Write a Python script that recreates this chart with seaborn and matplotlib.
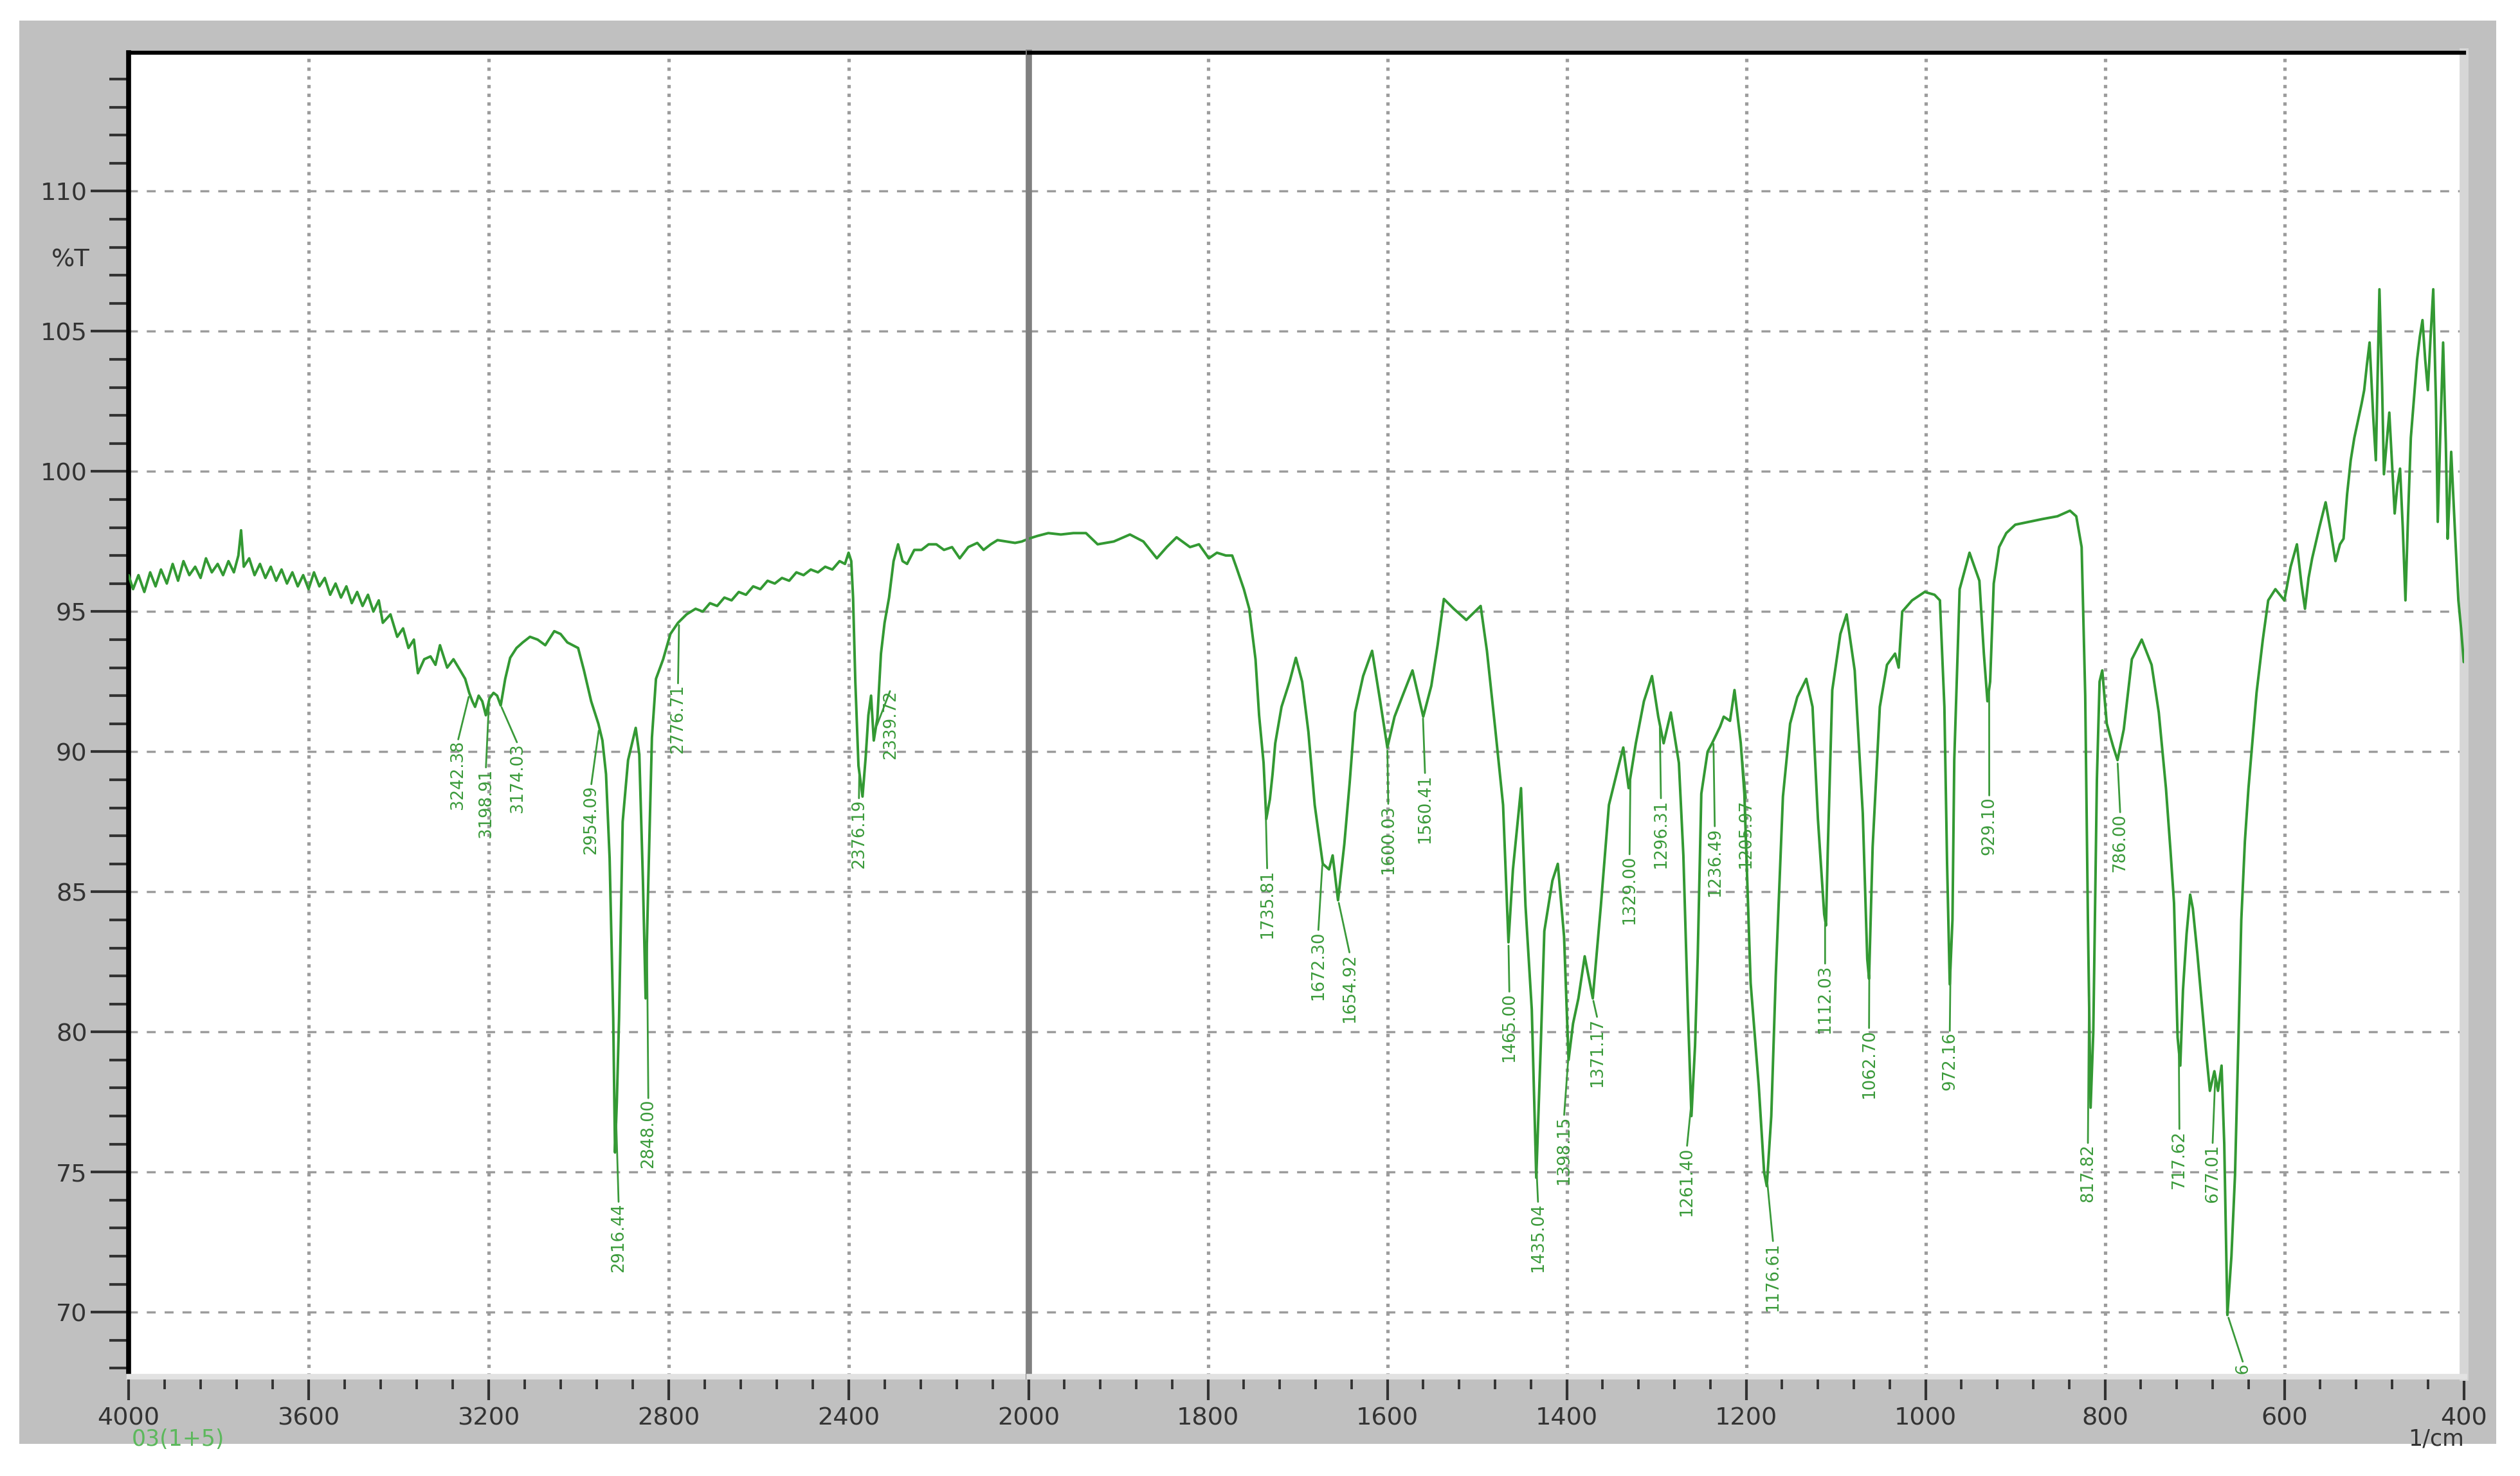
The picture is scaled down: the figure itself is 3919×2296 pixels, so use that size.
import numpy as np
import pandas as pd
import matplotlib
matplotlib.use("Agg")
import matplotlib.pyplot as plt
from matplotlib.patches import Rectangle
from matplotlib.ticker import FixedLocator, MultipleLocator, FormatStrFormatter
import seaborn as sns

# ---------------- data ----------------
wavenumber = [
    4000, 3990, 3978, 3965, 3952, 3940, 3928, 3915, 3902, 3890, 3878, 3865, 3852, 3840,
    3828, 3815, 3802, 3790, 3778, 3766, 3756, 3750, 3744, 3732, 3720, 3708, 3696, 3684,
    3672, 3660, 3648, 3636, 3624, 3612, 3600, 3588, 3576, 3564, 3552, 3540, 3528, 3516,
    3504, 3492, 3480, 3468, 3456, 3444, 3435, 3418, 3403, 3390, 3378, 3366, 3357, 3343,
    3329, 3318, 3308, 3292, 3278, 3263, 3252, 3243, 3236, 3230, 3222, 3214, 3206, 3198,
    3189, 3181, 3173, 3163, 3152, 3138, 3124, 3108, 3091, 3074, 3054, 3040, 3025, 3001,
    2988, 2972, 2956, 2947, 2939, 2931, 2923, 2919, 2915, 2910, 2902, 2890, 2873, 2865,
    2857, 2851, 2845, 2837, 2828, 2812, 2796, 2779, 2760, 2740, 2724, 2708, 2692, 2676,
    2660, 2644, 2628, 2612, 2596, 2580, 2564, 2548, 2532, 2516, 2500, 2484, 2468, 2452,
    2436, 2420, 2408, 2400, 2394, 2390, 2385, 2378, 2369, 2362, 2356, 2350, 2344, 2336,
    2328, 2320, 2310, 2300, 2290, 2280, 2270, 2254, 2238, 2222, 2205, 2188, 2170, 2153,
    2134, 2114, 2100, 2084, 2069, 2050, 2030, 2015, 2000,
    1990, 1978, 1964, 1950, 1936, 1923, 1905, 1887, 1872, 1857, 1846, 1835, 1820, 1810,
    1799, 1790, 1780, 1773, 1768, 1760, 1754, 1747, 1743, 1738, 1735, 1731, 1728, 1725,
    1718, 1709, 1702, 1695, 1688, 1681, 1672, 1665, 1661, 1655, 1648, 1642, 1636, 1627,
    1617, 1608, 1600, 1592, 1583, 1572, 1560, 1551, 1544, 1537, 1526, 1512, 1496, 1489,
    1480, 1471, 1465, 1460, 1451, 1446, 1439, 1434, 1429, 1425, 1416, 1410, 1403, 1398,
    1393, 1387, 1380, 1371, 1362, 1353, 1343, 1337, 1331, 1323, 1314, 1305, 1298, 1292,
    1284, 1275, 1270, 1265, 1261, 1257, 1254, 1250, 1243, 1238, 1229, 1225, 1218, 1213,
    1206, 1202, 1195, 1186, 1180, 1177, 1172, 1167, 1159, 1151, 1143, 1133, 1126, 1120,
    1113, 1111, 1109, 1104, 1095, 1088, 1079, 1070, 1065, 1063, 1059, 1051, 1043, 1034,
    1030, 1026, 1015, 1001, 990, 984, 979, 976, 973, 970, 968, 962, 951, 940, 935, 931,
    928, 924, 918, 910, 900, 885, 870, 853, 839, 832, 826, 822, 819, 816, 813, 809, 806,
    803, 798, 791, 786, 779, 770, 759, 748, 740, 732, 727, 723, 719, 716, 713, 709, 705,
    702, 697, 692, 687, 683, 678, 674, 670, 667, 663.5, 659, 655, 651, 648, 644, 640, 631,
    624, 618, 610, 600, 593, 586, 581, 577, 573, 569, 561, 554, 548, 543, 538, 534, 530,
    526, 522, 518, 514, 511, 508, 505, 501, 498, 496, 494, 491, 489, 486, 483, 480, 477,
    474, 471, 468, 465, 462, 459, 455, 452, 449, 446, 443, 440, 437, 434, 431, 429, 426,
    423, 420, 418, 416, 414, 410, 406, 403, 400,
]
transmittance = [
    96.3, 95.8, 96.3, 95.7, 96.4, 95.9, 96.5, 96.0, 96.7, 96.1, 96.8, 96.3, 96.6, 96.2,
    96.9, 96.4, 96.7, 96.3, 96.8, 96.4, 97.0, 97.9, 96.6, 96.9, 96.3, 96.7, 96.2, 96.6,
    96.1, 96.5, 96.0, 96.4, 95.9, 96.3, 95.8, 96.4, 95.9, 96.2, 95.6, 96.0, 95.5, 95.9,
    95.3, 95.7, 95.2, 95.6, 95.0, 95.4, 94.6, 94.9, 94.1, 94.4, 93.7, 94.0, 92.8, 93.3,
    93.4, 93.1, 93.8, 93.0, 93.3, 92.9, 92.6, 92.1, 91.8, 91.6, 92.0, 91.8, 91.3, 91.9,
    92.1, 92.0, 91.65, 92.6, 93.35, 93.7, 93.9, 94.1, 94.0, 93.8, 94.3, 94.2, 93.9, 93.7,
    92.9, 91.8, 91.0, 90.4, 89.2, 86.2, 80.5, 75.7, 77.5, 80.5, 87.5, 89.7, 90.85, 89.9,
    85.4, 81.2, 85.4, 90.5, 92.6, 93.3, 94.2, 94.6, 94.9, 95.1, 95.0, 95.3, 95.2, 95.5,
    95.4, 95.7, 95.6, 95.9, 95.8, 96.1, 96.0, 96.2, 96.1, 96.4, 96.3, 96.5, 96.4, 96.6,
    96.5, 96.8, 96.7, 97.1, 96.8, 95.5, 92.5, 89.5, 88.4, 89.8, 91.3, 92.0, 90.4, 91.2,
    93.5, 94.6, 95.5, 96.8, 97.4, 96.8, 96.7, 97.2, 97.2, 97.4, 97.4, 97.2, 97.3, 96.9,
    97.3, 97.45, 97.2, 97.4, 97.55, 97.5, 97.45, 97.5, 97.6,
    97.7, 97.8, 97.75, 97.8, 97.8, 97.4, 97.5, 97.75, 97.5, 96.9, 97.3, 97.65, 97.3, 97.4,
    96.9, 97.1, 97.0, 97.0, 96.55, 95.8, 95.1, 93.3, 91.3, 89.6, 87.6, 88.3, 89.2, 90.3,
    91.6, 92.5, 93.35, 92.5, 90.7, 88.1, 86.0, 85.8, 86.3, 84.7, 86.7, 88.9, 91.4, 92.7,
    93.6, 91.8, 90.15, 91.25, 92.0, 92.9, 91.25, 92.35, 93.8, 95.45, 95.1, 94.7, 95.2, 93.6,
    90.9, 88.1, 83.2, 85.8, 88.7, 84.5, 80.8, 74.8, 79.5, 83.6, 85.4, 86.0, 83.4, 79.0,
    80.3, 81.2, 82.7, 81.2, 84.5, 88.1, 89.4, 90.15, 88.7, 90.3, 91.8, 92.7, 91.25, 90.3,
    91.4, 89.6, 86.3, 80.8, 77.0, 79.5, 82.7, 88.5, 90.0, 90.3, 90.9, 91.25, 91.1, 92.2,
    90.3, 88.5, 81.75, 78.1, 75.0, 74.5, 77.0, 82.0, 88.4, 91.0, 91.95, 92.6, 91.6, 87.6,
    84.2, 83.8, 86.5, 92.2, 94.2, 94.9, 92.9, 87.8, 82.6, 81.9, 86.6, 91.6, 93.1, 93.5,
    93.0, 95.0, 95.4, 95.7, 95.6, 95.4, 91.6, 86.0, 81.7, 84.0, 89.7, 95.8, 97.1, 96.1, 93.5, 91.8,
    92.5, 96.0, 97.3, 97.8, 98.1, 98.2, 98.3, 98.4, 98.6, 98.4, 97.3, 92.0, 84.0, 77.3, 80.0, 89.0, 92.5,
    92.9, 91.0, 90.2, 89.7, 90.8, 93.3, 94.0, 93.1, 91.4, 88.7, 86.5, 84.6, 79.8, 78.8, 81.5, 83.5, 84.9,
    84.4, 82.8, 81.0, 79.2, 77.9, 78.6, 77.9, 78.8, 76.0, 69.9, 72.0, 74.9, 80.0, 84.0, 86.8, 88.7, 92.1,
    94.0, 95.4, 95.8, 95.4, 96.6, 97.4, 96.0, 95.1, 96.2, 96.9, 98.0, 98.9, 97.8, 96.8, 97.4, 97.6, 99.2,
    100.4, 101.2, 101.8, 102.4, 102.9, 103.8, 104.6, 102.0, 100.4, 103.5, 106.5, 103.0, 99.9, 101.0, 102.1, 100.3, 98.5,
    99.5, 100.1, 98.0, 95.4, 98.5, 101.2, 102.8, 104.0, 104.8, 105.4, 104.0, 102.9, 104.8, 106.5, 102.5, 98.2, 101.5,
    104.6, 101.0, 97.6, 99.0, 100.7, 98.0, 95.4, 94.4, 93.2,
]

peak_wavenumbers = [
    3242.38, 3198.91, 3174.03, 2954.09, 2916.44, 2848.00, 2776.71, 2376.19, 2339.72,
    1735.81, 1672.30, 1654.92, 1600.03, 1560.41, 1465.00, 1435.04, 1398.15, 1371.17,
    1329.00, 1296.31, 1261.40, 1236.49, 1205.97, 1176.61, 1112.03, 1062.70, 972.16,
    929.10, 817.82, 786.00, 717.62, 677.01, 663.46,
]

x_ticks_left = [4000, 3600, 3200, 2800, 2400]
x_ticks_right = [2000, 1800, 1600, 1400, 1200, 1000, 800, 600, 400]

# ---------------- layout of the peak labels (positions only) ----------------
label_text_x = [
    3268, 3206, 3136, 2972, 2911, 2845, 2779, 2377, 2307,
    1734, 1677, 1642, 1599, 1558, 1464, 1432, 1403, 1366,
    1330, 1295, 1266, 1235, 1200, 1170, 1112, 1063, 973,
    929, 819, 783, 717, 680, 646,
]
label_top = [
    90.4, 89.4, 90.3, 88.8, 73.9, 77.6, 92.4, 88.3, 92.2,
    85.8, 83.6, 82.8, 88.1, 89.2, 81.4, 73.9, 77.0, 80.5,
    86.3, 88.3, 75.9, 87.3, 88.3, 72.5, 82.4, 80.1, 80.0,
    88.4, 76.0, 87.8, 76.5, 76.0, 68.2,
]

# ---------------- styling ----------------
sns.set_theme(style="white")
plt.rcParams["font.family"] = ["DejaVu Sans"]

W, H = 3919, 2296
fig = plt.figure(figsize=(W / 250, H / 250), dpi=250)
fig.patch.set_facecolor("white")


def fx(px):
    return px / 1568.0


def fy(py):
    return 1.0 - py / 919.0


panel = Rectangle((fx(12), fy(899)), fx(1553) - fx(12), fy(13) - fy(899),
                  transform=fig.transFigure, facecolor="#c0c0c0",
                  edgecolor="none", zorder=-5)
fig.add_artist(panel)

left, split, right = fx(80), fx(640), fx(1533)
bottom, top = fy(857), fy(33)
ax1 = fig.add_axes([left, bottom, split - left, top - bottom])
ax2 = fig.add_axes([split, bottom, right - split, top - bottom])

LINE_GREEN = "#339933"
LABEL_GREEN = "#3a9a3a"
TICK_GRAY = "#333333"

df = pd.DataFrame({"wavenumber": wavenumber, "T": transmittance})
for ax in (ax1, ax2):
    ax.set_facecolor("white")
    sns.lineplot(data=df, x="wavenumber", y="T", ax=ax, color=LINE_GREEN,
                 linewidth=1.15, estimator=None, sort=True, zorder=3)
    ax.set_xlabel("")
    ax.set_ylabel("")
    ax.set_ylim(67.71, 114.93)
    ax.yaxis.set_major_locator(MultipleLocator(5))
    ax.yaxis.set_minor_locator(MultipleLocator(1))
    ax.grid(axis="y", which="major", color="#9c9c9c", linestyle=(0, (4, 4)),
            linewidth=1.0, zorder=1)
    ax.grid(axis="x", which="major", color="#9c9c9c", linestyle=(0, (1.0, 1.6)),
            linewidth=1.5, zorder=1)
    ax.spines["top"].set_color("black")
    ax.spines["top"].set_linewidth(1.8)
    ax.spines["bottom"].set_color("#e2e2e2")
    ax.spines["bottom"].set_linewidth(2.5)
    ax.tick_params(axis="x", which="major", direction="out", length=10.6,
                   width=1.2, color=TICK_GRAY, labelsize=11,
                   labelcolor=TICK_GRAY, pad=3, bottom=True)
    ax.tick_params(axis="x", which="minor", direction="out", length=5.8,
                   width=1.1, color=TICK_GRAY, bottom=True)

ax1.set_xlim(4000, 2000)
ax2.set_xlim(2000, 400)

ax1.xaxis.set_major_locator(FixedLocator(x_ticks_left))
ax1.xaxis.set_minor_locator(FixedLocator(
    [v for v in range(2080, 4000, 80) if v not in x_ticks_left]))
ax2.xaxis.set_major_locator(FixedLocator(x_ticks_right))
ax2.xaxis.set_minor_locator(FixedLocator(
    [v for v in range(440, 2000, 40) if v not in x_ticks_right]))
ax1.xaxis.set_major_formatter(FormatStrFormatter("%d"))
ax2.xaxis.set_major_formatter(FormatStrFormatter("%d"))

# y axis only on the left panel
ax1.yaxis.set_major_formatter(FormatStrFormatter("%d"))
ax1.tick_params(axis="y", which="major", direction="out", length=17, width=1.2,
                color=TICK_GRAY, labelsize=11, labelcolor=TICK_GRAY, pad=1.5,
                left=True)
ax1.tick_params(axis="y", which="minor", direction="out", length=8.6,
                width=1.2, color=TICK_GRAY, left=True)
ax2.tick_params(axis="y", which="both", left=False, labelleft=False)

ax1.spines["left"].set_color("black")
ax1.spines["left"].set_linewidth(2.2)
ax1.spines["right"].set_visible(False)
ax2.spines["left"].set_color("#808080")
ax2.spines["left"].set_linewidth(2.8)
ax2.spines["right"].set_color("#d6d6d6")
ax2.spines["right"].set_linewidth(4)

# peak labels: a thin line from the peak down to the top of a vertical label
wn_arr = np.asarray(wavenumber, dtype=float)
t_arr = np.asarray(transmittance, dtype=float)
order = np.argsort(wn_arr)
for wn, tx, ty in zip(peak_wavenumbers, label_text_x, label_top):
    ax = ax1 if wn >= 2000 else ax2
    t_peak = np.interp(wn, wn_arr[order], t_arr[order])
    ann = ax.annotate(f"{wn:.2f}", xy=(wn, t_peak), xytext=(tx, ty),
                      textcoords="data", rotation=90, ha="center", va="top",
                      fontsize=7.5, color=LABEL_GREEN, zorder=4,
                      annotation_clip=False,
                      arrowprops=dict(arrowstyle="-", color=LABEL_GREEN,
                                      lw=0.8, shrinkA=0.5, shrinkB=1.5,
                                      relpos=(0.5, 1.0), patchA=None))
    ann.set_clip_on(True)
    ann.set_clip_box(ax.bbox)
    ann.arrow_patch.set_clip_on(True)
    ann.arrow_patch.set_clip_box(ax.bbox)

# texts
fig.text(fx(56), fy(162), "%T", ha="right", va="center", fontsize=11,
         color=TICK_GRAY)
fig.text(fx(1516), fy(896), "1/cm", ha="center", va="center", fontsize=10,
         color=TICK_GRAY)
fig.text(fx(82), fy(896), "03(1+5)", ha="left", va="center", fontsize=10,
         color="#5cb85c")

fig.savefig("out.png", dpi=250, facecolor=fig.get_facecolor())
